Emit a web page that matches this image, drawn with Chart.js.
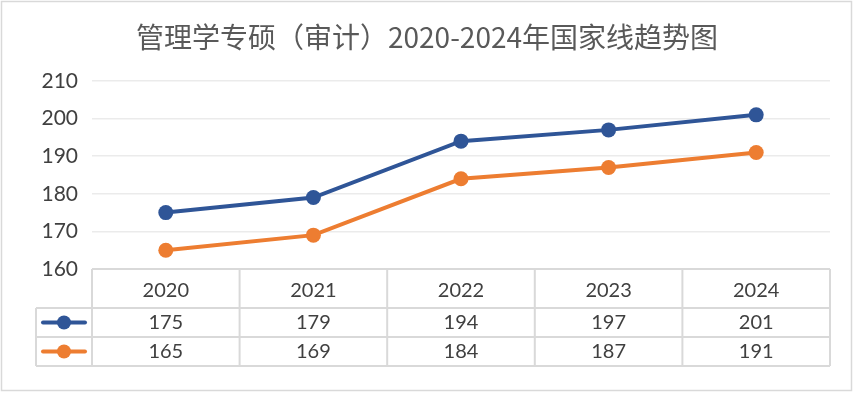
<!DOCTYPE html>
<html><head><meta charset="utf-8">
<script src="https://cdn.jsdelivr.net/npm/chart.js@4/dist/chart.umd.min.js"></script>
<style>html,body{margin:0;padding:0;background:#fff;}#wrap{width:854px;height:393px;}</style>
</head><body><div id="wrap"><canvas id="c" width="854" height="393"></canvas></div>
<script>
const titleText = '管理学专硕（审计）2020-2024年国家线趋势图';
const categories = ['2020','2021','2022','2023','2024'];
const seriesA = [175,179,194,197,201];
const seriesB = [165,169,184,187,191];
const yTicks = [160,170,180,190,200,210];
const colorA = '#2F5597';
const colorB = '#ED7D31';
const textColor = '#404040';
const lineGray = '#d9d9d9';

const tablePlugin = {
  id: 'tablePlugin',
  beforeDraw(chart){
    const ctx = chart.ctx;
    ctx.save();
    ctx.fillStyle = '#fff';
    ctx.fillRect(0,0,chart.width,chart.height);
    ctx.strokeStyle = lineGray; ctx.lineWidth = 1.5;
    ctx.strokeRect(1.5,1.5,chart.width-4,chart.height-4);
    ctx.fillStyle = '#595959';
    ctx.font = '28px "Noto Sans CJK SC"';
    ctx.textAlign = 'center'; ctx.textBaseline = 'middle';
    ctx.fillText(titleText, 427, 37);
    ctx.restore();
  },
  afterDraw(chart){
    const ctx = chart.ctx;
    const xs = chart.scales.x;
    const area = chart.chartArea;
    const n = categories.length;
    const step = (area.right-area.left)/n;
    const top = area.bottom, hb = 308, r1 = 337, r2 = 366, legL = 36;
    ctx.save();
    ctx.strokeStyle = lineGray; ctx.lineWidth = 2;
    ctx.beginPath();
    ctx.moveTo(area.left, top); ctx.lineTo(area.right, top);
    ctx.moveTo(legL, hb); ctx.lineTo(area.right, hb);
    ctx.moveTo(legL, r1); ctx.lineTo(area.right, r1);
    ctx.moveTo(legL, r2); ctx.lineTo(area.right, r2);
    ctx.moveTo(legL, hb); ctx.lineTo(legL, r2);
    for(let i=0;i<=n;i++){
      const x = area.left + i*step;
      ctx.moveTo(x, top); ctx.lineTo(x, r2);
    }
    ctx.stroke();
    ctx.fillStyle = textColor;
    ctx.font = '20px Lato';
    ctx.textAlign = 'center'; ctx.textBaseline = 'middle';
    categories.forEach((c,i)=>{
      const x = xs.getPixelForValue(i);
      ctx.fillText(c, x, 291);
      ctx.fillText(String(seriesA[i]), x, 323);
      ctx.fillText(String(seriesB[i]), x, 352);
    });
    [[colorA,(hb+r1)/2],[colorB,(r1+r2)/2]].forEach(([col,y])=>{
      ctx.strokeStyle = col; ctx.lineWidth = 4; ctx.lineCap='round';
      ctx.beginPath(); ctx.moveTo(43,y); ctx.lineTo(85,y); ctx.stroke();
      ctx.fillStyle = col; ctx.beginPath(); ctx.arc(64,y,7,0,Math.PI*2); ctx.fill();
    });
    ctx.restore();
  }
};

new Chart(document.getElementById('c'), {
  type: 'line',
  data: {
    labels: categories,
    datasets: [
      {data: seriesA, borderColor: colorA, backgroundColor: colorA, borderWidth: 4, pointRadius: 7.5, pointHoverRadius: 7.5, pointBorderWidth: 0, tension: 0},
      {data: seriesB, borderColor: colorB, backgroundColor: colorB, borderWidth: 4, pointRadius: 7.5, pointHoverRadius: 7.5, pointBorderWidth: 0, tension: 0}
    ]
  },
  options: {
    responsive: false, animation: false,
    layout: {padding: {top: 81, bottom: 124, right: 24, left: 0}},
    plugins: {legend: {display: false}, title: {display: false}, tooltip: {enabled: false}},
    scales: {
      x: {type: 'category', offset: true, display: false},
      y: {
        min: 160, max: 210,
        afterFit(scale){ scale.width = 92; },
        afterBuildTicks(scale){ scale.ticks = yTicks.map(v=>({value:v})); },
        ticks: {color: textColor, font: {family: 'Lato', size: 21}, padding: 14},
        grid: {color: (c)=> c.tick && c.tick.value===160 ? 'rgba(0,0,0,0)' : '#ebebeb', lineWidth: 1.5, drawTicks: false},
        border: {display: false}
      }
    }
  },
  plugins: [tablePlugin]
});
</script></body></html>
